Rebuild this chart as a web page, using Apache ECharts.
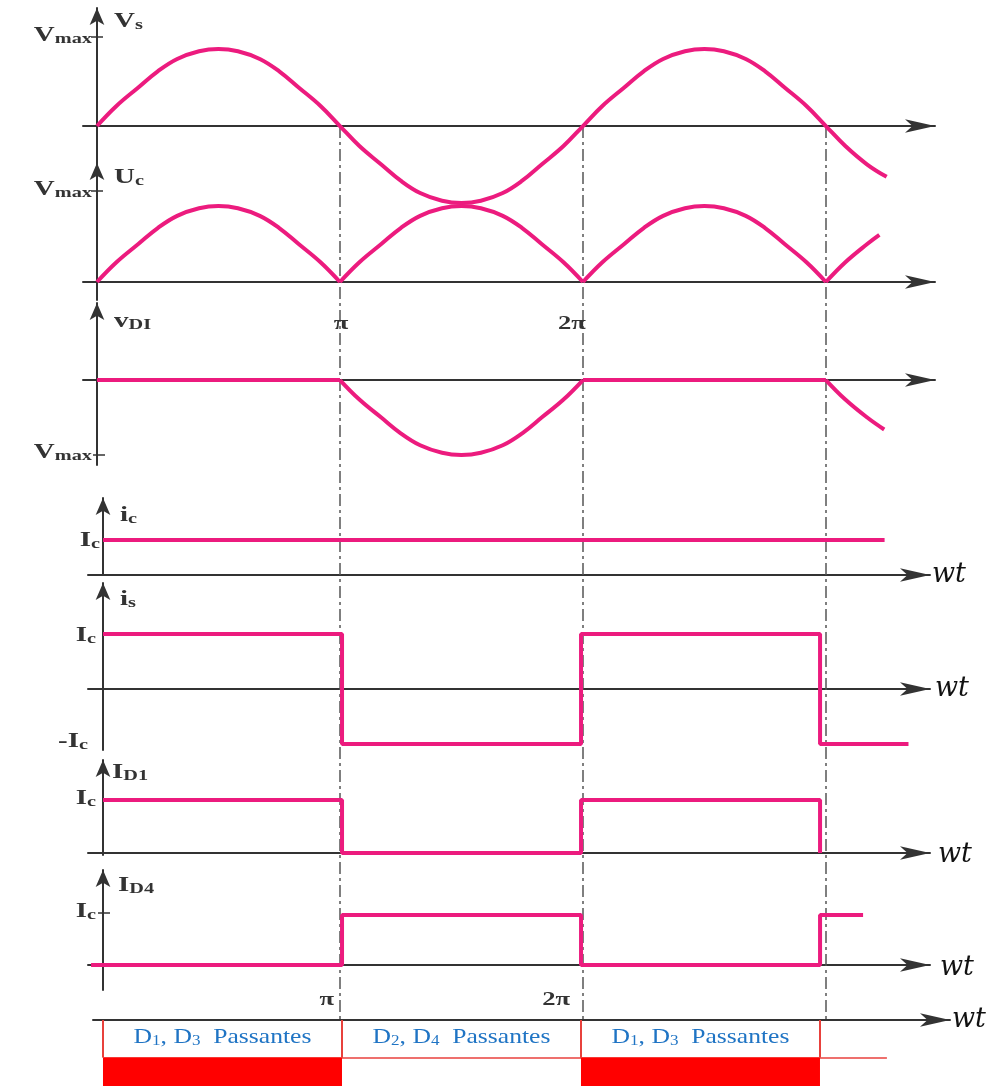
<!DOCTYPE html>
<html><head><meta charset="utf-8">
<script src="https://cdn.jsdelivr.net/npm/echarts@6/dist/echarts.min.js"></script>
<style>html,body{margin:0;padding:0;background:#fff}#c{width:994px;height:1086px}</style>
</head><body><div id="c"></div>
<script>
// ---------- data (x in units of π) ----------
const vsPhase = [0,0.08,0.17,0.25,0.33,0.42,0.5,0.58,0.67,0.75,0.83,0.92,
                 1,1.08,1.17,1.25,1.33,1.42,1.5,1.58,1.67,1.75,1.83,1.92,
                 2,2.08,2.17,2.25,2.33,2.42,2.5,2.58,2.67,2.75,2.83,2.92,
                 3,3.08,3.17,3.25];
const vsValue = [0,0.26,0.5,0.71,0.87,0.97,1,0.97,0.87,0.71,0.5,0.26,
                 0,-0.26,-0.5,-0.71,-0.87,-0.97,-1,-0.97,-0.87,-0.71,-0.5,-0.26,
                 0,0.26,0.5,0.71,0.87,0.97,1,0.97,0.87,0.71,0.5,0.26,
                 0,-0.26,-0.5,-0.66];

const ucPhase = [0,0.08,0.17,0.25,0.33,0.42,0.5,0.58,0.67,0.75,0.83,0.92,
                 1,1.08,1.17,1.25,1.33,1.42,1.5,1.58,1.67,1.75,1.83,1.92,
                 2,2.08,2.17,2.25,2.33,2.42,2.5,2.58,2.67,2.75,2.83,2.92,
                 3,3.08,3.17,3.22];
const ucValue = [0,0.26,0.5,0.71,0.87,0.97,1,0.97,0.87,0.71,0.5,0.26,
                 0,0.26,0.5,0.71,0.87,0.97,1,0.97,0.87,0.71,0.5,0.26,
                 0,0.26,0.5,0.71,0.87,0.97,1,0.97,0.87,0.71,0.5,0.26,
                 0,0.26,0.5,0.62];
const ucCusps = [1,2,3];

const vdPhase = [0,1,1.08,1.17,1.25,1.33,1.42,1.5,1.58,1.67,1.75,1.83,1.92,2,3,3.08,3.17,3.24];
const vdValue = [0,0,-0.26,-0.5,-0.71,-0.87,-0.97,-1,-0.97,-0.87,-0.71,-0.5,-0.26,0,0,-0.26,-0.5,-0.66];
const vdCorners = [1,2,3];

const icPhase = [0,3.27];
const icValue = [1,1];

const isPhase = [0,1,1,2,2,3,3,3.37];
const isValue = [1,1,-1,-1,1,1,-1,-1];

const id1Phase = [0,1,1,2,2,3,3];
const id1Value = [1,1,0,0,1,1,0];

const id4Phase = [-0.05,1,1,2,2,3,3,3.18];
const id4Value = [0,0,1,1,0,0,1,1];

const transitions = [1,2,3];          // π, 2π, 3π
const piTickLabels = ['π','2π'];

const phaseStart  = [0,1,2];
const phaseEnd    = [1,2,3];
const phaseFilled = [1,0,1];
const phaseLabels = ['D{s|1}, D{s|3}  Passantes','D{s|2}, D{s|4}  Passantes','D{s|1}, D{s|3}  Passantes'];
const bandTail = 3.28;

// ---------- styles ----------
const PINK = '#ec1b7e';
const AXIS = '#333333';
const LBL = '#333333';
const SERIF = "'Liberation Serif','DejaVu Serif',serif";

const topX = {left:83, width:852, min:-0.0576, max:3.449};
const lowX = {left:88, width:842, min:-0.0628, max:3.46};
const panels = [
  {x:topX, top:8,   height:157, ymin:-0.506, ymax:1.532},
  {x:topX, top:163, height:137, ymin:-0.237, ymax:1.566},
  {x:topX, top:303, height:162, ymin:-1.133, ymax:1.027},
  {x:lowX, top:498, height:77,  ymin:0,      ymax:2.2},
  {x:lowX, top:583, height:167, ymin:-1.109, ymax:1.927},
  {x:lowX, top:760, height:95,  ymin:-0.038, ymax:1.755},
  {x:lowX, top:870, height:120, ymin:-0.5,   ymax:1.9}
];

const grids = [], xAxes = [], yAxes = [];
const hidden = {axisTick:{show:false}, axisLabel:{show:false}, splitLine:{show:false}};
panels.forEach((p,i)=>{
  grids.push({left:p.x.left, top:p.top, width:p.x.width, height:p.height});
  xAxes.push(Object.assign({gridIndex:i, type:'value', min:p.x.min, max:p.x.max,
    axisLine:{show:true, onZero:true, symbol:['none','arrow'], symbolSize:[10,30], lineStyle:{color:AXIS,width:2}}}, hidden));
  yAxes.push(Object.assign({gridIndex:i, type:'value', min:p.ymin, max:p.ymax,
    axisLine:{show:true, onZero:true, symbol:['none','arrow'], symbolSize:[11,17], lineStyle:{color:AXIS,width:2}}}, hidden));
});
// bottom band grid (7)
grids.push({left:93, top:1020, width:857, height:66});
xAxes.push(Object.assign({gridIndex:7, type:'value', min:-0.0418, max:3.544,
  axisLine:{show:true, onZero:true, symbol:['none','arrow'], symbolSize:[10,30], lineStyle:{color:AXIS,width:2}}}, hidden));
yAxes.push(Object.assign({gridIndex:7, type:'value', min:0, max:1, inverse:true, axisLine:{show:false}}, hidden));
// overlay grid for transition lines (8)
grids.push({left:83, top:126, width:852, height:894});
xAxes.push(Object.assign({gridIndex:8, type:'value', min:topX.min, max:topX.max, axisLine:{show:false}}, hidden));
yAxes.push(Object.assign({gridIndex:8, type:'value', min:0, max:1, axisLine:{show:false}}, hidden));

function zip(a,b){ return a.map((v,i)=>[v,b[i]]); }
function splitAt(ph, val, cuts){
  const segs = []; let cur = [];
  ph.forEach((p,i)=>{
    cur.push([p,val[i]]);
    if (cuts.indexOf(p) >= 0 && cur.length > 1 && i < ph.length-1) { segs.push(cur); cur = [[p,val[i]]]; }
  });
  if (cur.length > 1) segs.push(cur);
  return segs;
}
function pinkLine(idx, data, smooth){
  return {type:'line', xAxisIndex:idx, yAxisIndex:idx, data, smooth:smooth?0.4:false, showSymbol:false, clip:false,
    lineStyle:{color:PINK, width:4}, z:5, silent:true, animation:false};
}

const series = [];
series.push(pinkLine(0, zip(vsPhase, vsValue), true));
splitAt(ucPhase, ucValue, ucCusps).forEach(s=>series.push(pinkLine(1, s, true)));
splitAt(vdPhase, vdValue, vdCorners).forEach(s=>series.push(pinkLine(2, s, true)));
series.push(pinkLine(3, zip(icPhase, icValue)));
series.push(pinkLine(4, zip(isPhase, isValue)));
series.push(pinkLine(5, zip(id1Phase, id1Value)));
series.push(pinkLine(6, zip(id4Phase, id4Value)));

// transition dash-dot lines
series.push({type:'lines', coordinateSystem:'cartesian2d', xAxisIndex:8, yAxisIndex:8, silent:true, z:1, animation:false,
  lineStyle:{color:'#555', width:1.5, type:[12,4,3,4], opacity:1},
  data: transitions.map(t=>({coords:[[t,1],[t,0]]}))});

// bottom band: thin line
series.push({type:'lines', coordinateSystem:'cartesian2d', xAxisIndex:7, yAxisIndex:7, silent:true, z:2, animation:false,
  lineStyle:{color:'#e8413c', width:1.5, opacity:1},
  data:[{coords:[[0,0.57],[bandTail,0.57]]}]});

// bottom band: conduction intervals
series.push({type:'custom', coordinateSystem:'cartesian2d', xAxisIndex:7, yAxisIndex:7, silent:true, z:3, animation:false,
  data: phaseStart.map((s,i)=>[s, phaseEnd[i], phaseFilled[i]]),
  renderItem:function(params, api){
    const a = api.coord([api.value(0), 0]);
    const b = api.coord([api.value(1), 0]);
    const yl = api.coord([0, 0.57])[1];
    const yb = api.coord([0, 1])[1];
    const yt = api.coord([0, 0.27])[1];
    const ch = [];
    if (api.value(2)) ch.push({type:'rect', shape:{x:a[0], y:yl, width:b[0]-a[0], height:yb-yl}, style:{fill:'#ff0000'}});
    ch.push({type:'line', shape:{x1:a[0],y1:a[1],x2:a[0],y2:yl}, style:{stroke:'#e8413c', lineWidth:2}});
    ch.push({type:'line', shape:{x1:b[0],y1:b[1],x2:b[0],y2:yl}, style:{stroke:'#e8413c', lineWidth:2}});
    ch.push({type:'text', x:(a[0]+b[0])/2, y:yt, scaleX:1.22,
      style:{text:phaseLabels[params.dataIndex], align:'center', verticalAlign:'middle', fill:'#1f74c4',
        font:'21px '+SERIF,
        rich:{s:{fontSize:14, fontFamily:SERIF, fill:'#1f74c4', lineHeight:14, verticalAlign:'bottom'}}}});
    return {type:'group', children:ch};
  }});

// ---------- text labels ----------
function lab(x, y, main, sub, align, opt){
  opt = opt || {};
  const mf = opt.size || 20, sf = opt.sub || 14;
  return {type:'text', x, y, scaleX: opt.sx || 1.45, z:50, silent:true,
    style:{text:'{m|'+main+'}'+(sub?'{s|'+sub+'}':''), align, verticalAlign:'middle',
      rich:{m:{fontSize:mf, fontWeight:'bold', fontFamily:SERIF, fill:LBL, lineHeight:mf+4, verticalAlign:'bottom'},
            s:{fontSize:sf, fontWeight:'bold', fontFamily:SERIF, fill:LBL, lineHeight:sf, verticalAlign:'bottom'}}}};
}
function wt(x, y){
  return {type:'text', x, y, z:50, silent:true, style:{text:'wt', align:'left', verticalAlign:'middle',
    font:'italic 27px "DejaVu Serif"', fill:'#111'}};
}
function tick(x, y){
  return {type:'line', z:50, silent:true, shape:{x1:x-6,y1:y,x2:x+6,y2:y}, style:{stroke:AXIS, lineWidth:1.5}};
}
const graphics = [
  lab(92, 34, 'V', 'max', 'right'), tick(97,37), lab(114, 20, 'V', 's', 'left'),
  lab(92, 188, 'V', 'max', 'right'), tick(97,191), lab(114, 176, 'U', 'c', 'left'),
  lab(341, 322, piTickLabels[0], '', 'center', {size:19, sx:1.4}),
  lab(572, 322, piTickLabels[1], '', 'center', {size:19, sx:1.4}),
  lab(114, 320, 'v', 'DI', 'left', {size:20}),
  lab(92, 451, 'V', 'max', 'right'), tick(99,455),
  lab(120, 514, 'i', 'c', 'left'), lab(100, 539, 'I', 'c', 'right'), wt(932, 575),
  lab(120, 598, 'i', 's', 'left'), lab(96, 634, 'I', 'c', 'right'), lab(88, 740, '-I', 'c', 'right'), wt(935, 689),
  lab(112, 771, 'I', 'D1', 'left'), lab(96, 797, 'I', 'c', 'right'), wt(938, 855),
  lab(118, 884, 'I', 'D4', 'left'), lab(96, 910, 'I', 'c', 'right'), tick(104,913), wt(940, 968),
  lab(334, 998, piTickLabels[0], '', 'right', {size:19, sx:1.4}),
  lab(570, 998, piTickLabels[1], '', 'right', {size:19, sx:1.4}),
  wt(952, 1020)
];

const chart = echarts.init(document.getElementById('c'));
chart.setOption({
  backgroundColor:'#ffffff',
  animation:false,
  grid:grids, xAxis:xAxes, yAxis:yAxes,
  series, graphic:graphics
});
</script>
</body></html>
